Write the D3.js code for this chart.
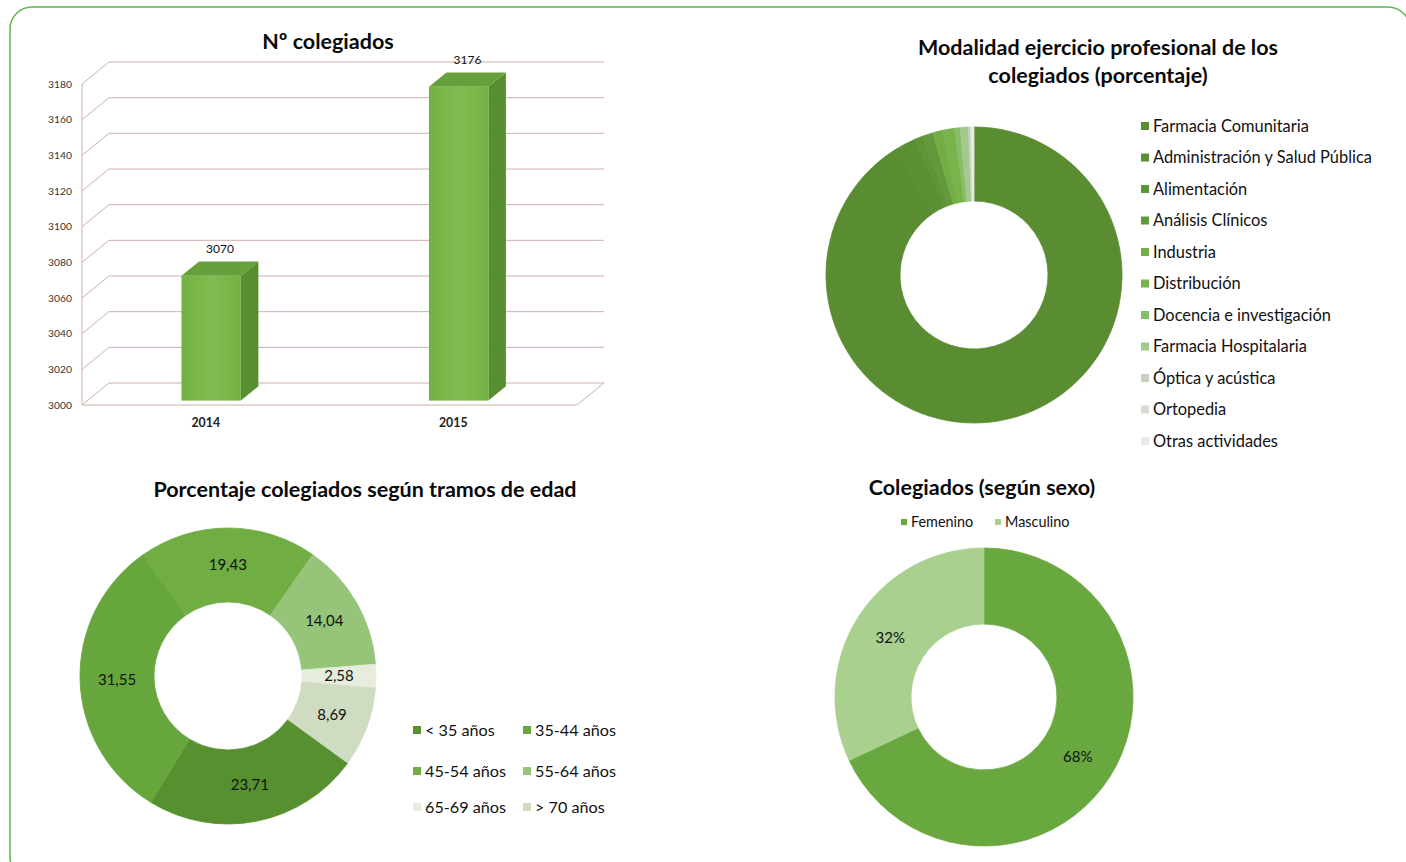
<!DOCTYPE html>
<html>
<head>
<meta charset="utf-8">
<script src="https://cdn.jsdelivr.net/npm/d3@7"></script>
<style>
  body { margin: 0; background: #ffffff; }
  svg { display: block; font-family: Lato, "Open Sans", sans-serif; }
</style>
</head>
<body>
<div id="contenedor"></div>
<script>
// --- datos ---
const anios = ["2014", "2015"];
const colegiados = [3070, 3176];
const ticksColegiados = [3000, 3020, 3040, 3060, 3080, 3100, 3120, 3140, 3160, 3180];

const modalidades = ["Farmacia Comunitaria", "Administración y Salud Pública", "Alimentación",
    "Análisis Clínicos", "Industria", "Distribución", "Docencia e investigación",
    "Farmacia Hospitalaria", "Óptica y acústica", "Ortopedia", "Otras actividades"];
const porcentajesModalidad = [91.0, 2.5, 0.8, 1.2, 1.0, 1.4, 0.6, 0.9, 0.2, 0.1, 0.3];
const coloresModalidad = ["#5a8c32", "#5b8f33", "#5e9436", "#63993a", "#72ad45", "#78b34b",
    "#8abd6a", "#a3ca8e", "#c6d0be", "#d6dcd1", "#e8ebe4"];

const tramos = ["< 35 años", "35-44 años", "45-54 años", "55-64 años", "65-69 años", "> 70 años"];
const porcentajesTramo = [23.71, 31.55, 19.43, 14.04, 2.58, 8.69];
const coloresTramo = ["#56902f", "#67a53d", "#70ae44", "#96c57a", "#e6eddc", "#d0dcc2"];

const sexos = ["Femenino", "Masculino"];
const porcentajesSexo = [68, 32];
const coloresSexo = ["#68a83f", "#aad08f"];

const ANCHO = 1406, ALTO = 862;
const COLOR_TEXTO = "#111";

const $svg = d3.select("#contenedor")
    .append("svg")
    .attr("width", ANCHO)
    .attr("height", ALTO);

// marco redondeado
$svg.append("rect")
    .attr("x", 10).attr("y", 7)
    .attr("width", 1400).attr("height", 872)
    .attr("rx", 22)
    .attr("fill", "none")
    .attr("stroke", "#62b550")
    .attr("stroke-width", 1.5);

const titulo = (x, y, texto) => {
    $svg.append("text")
        .attr("x", x).attr("y", y)
        .attr("text-anchor", "middle")
        .attr("font-size", 21.5)
        .attr("font-weight", "bold")
        .attr("fill", "#0a0a0a")
        .text(texto);
};

// --- barras 3D: Nº colegiados ---
const FONDO_X = 27, FONDO_Y = -22;
const COLOR_REJILLA = "#cdb0ab";
const y = d3.scaleLinear().domain([3000, 3180]).range([405, 84]);
const x = d3.scaleBand().domain(anios).range([82, 577]).paddingInner(0.76).paddingOuter(0.38);

titulo(328, 49, "Nº colegiados");

const rejilla = $svg.append("g");
for (const t of ticksColegiados) {
    rejilla.append("path")
        .attr("d", `M82,${y(t)} L${82 + FONDO_X},${y(t) + FONDO_Y} L${577 + FONDO_X},${y(t) + FONDO_Y}`)
        .attr("fill", "none")
        .attr("stroke", COLOR_REJILLA);
    rejilla.append("text")
        .attr("x", 72).attr("y", y(t))
        .attr("dy", "0.35em")
        .attr("text-anchor", "end")
        .attr("font-size", 10.3)
        .attr("fill", "#333")
        .text(t);
}
// suelo y eje
rejilla.append("path")
    .attr("d", `M82,${y(3000)} L577,${y(3000)} L${577 + FONDO_X},${y(3000) + FONDO_Y}`)
    .attr("fill", "none")
    .attr("stroke", COLOR_REJILLA);
rejilla.append("line")
    .attr("x1", 82).attr("x2", 82)
    .attr("y1", y(3180)).attr("y2", y(3000))
    .attr("stroke", COLOR_REJILLA);

const defs = $svg.append("defs");
const grad = defs.append("linearGradient").attr("id", "frente").attr("x1", 0).attr("x2", 1);
grad.append("stop").attr("offset", "0%").attr("stop-color", "#72b142");
grad.append("stop").attr("offset", "50%").attr("stop-color", "#80bd52");
grad.append("stop").attr("offset", "100%").attr("stop-color", "#74b244");

const F1 = 0.2, F2 = 0.85;
anios.forEach((anio, i) => {
    const x0 = x(anio) + FONDO_X * F1;
    const x1 = x0 + x.bandwidth();
    const yb = y(3000) + FONDO_Y * F1;
    const yt = y(colegiados[i]) + FONDO_Y * F1;
    const dx = FONDO_X * (F2 - F1), dy = FONDO_Y * (F2 - F1);
    const g = $svg.append("g");
    g.append("path")
        .attr("d", `M${x1},${yt} L${x1 + dx},${yt + dy} L${x1 + dx},${yb + dy} L${x1},${yb} Z`)
        .attr("fill", "#568e30");
    g.append("path")
        .attr("d", `M${x0},${yt} L${x0 + dx},${yt + dy} L${x1 + dx},${yt + dy} L${x1},${yt} Z`)
        .attr("fill", "#66a03a");
    g.append("rect")
        .attr("x", x0).attr("y", yt)
        .attr("width", x.bandwidth()).attr("height", yb - yt)
        .attr("fill", "url(#frente)");
    g.append("text")
        .attr("x", x0 + x.bandwidth() / 2 + dx / 2)
        .attr("y", yt + dy - 8)
        .attr("text-anchor", "middle")
        .attr("font-size", 12)
        .attr("fill", COLOR_TEXTO)
        .text(colegiados[i]);
    g.append("text")
        .attr("x", x(anio) + x.bandwidth() / 2)
        .attr("y", 427)
        .attr("text-anchor", "middle")
        .attr("font-size", 12.3)
        .attr("font-weight", "bold")
        .attr("fill", "#222")
        .text(anio);
});

// --- donut generico ---
const donut = (cx, cy, rExt, rInt, valores, colores, inicio, etiquetas) => {
    const pie = d3.pie().sort(null).startAngle(inicio).endAngle(inicio + 2 * Math.PI);
    const arco = d3.arc().innerRadius(rInt).outerRadius(rExt);
    const arcoEtiqueta = d3.arc().innerRadius((rInt + rExt) / 2).outerRadius((rInt + rExt) / 2);
    const g = $svg.append("g").attr("transform", `translate(${cx},${cy})`);
    const datos = pie(valores);
    g.selectAll("path")
        .data(datos)
        .join("path")
        .attr("d", arco)
        .attr("fill", (d, i) => colores[i])
        .attr("stroke", (d, i) => colores[i])
        .attr("stroke-width", 0.8);
    if (etiquetas) {
        g.selectAll("text")
            .data(datos)
            .join("text")
            .attr("transform", d => `translate(${arcoEtiqueta.centroid(d)})`)
            .attr("dy", "0.35em")
            .attr("text-anchor", "middle")
            .attr("font-size", 15)
            .attr("fill", COLOR_TEXTO)
            .text((d, i) => etiquetas[i]);
    }
};

const leyenda = (items, colores, posiciones, tam, tamFuente) => {
    items.forEach((item, i) => {
        const p = posiciones[i];
        $svg.append("rect")
            .attr("x", p[0]).attr("y", p[1] - tam / 2)
            .attr("width", tam).attr("height", tam)
            .attr("fill", colores[i]);
        $svg.append("text")
            .attr("x", p[0] + tam + 4).attr("y", p[1])
            .attr("dy", "0.35em")
            .attr("font-size", tamFuente)
            .attr("fill", COLOR_TEXTO)
            .text(item);
    });
};

// --- modalidad ejercicio profesional ---
titulo(1098, 55, "Modalidad ejercicio profesional de los");
titulo(1098, 83, "colegiados (porcentaje)");
donut(974, 275, 148, 74, porcentajesModalidad, coloresModalidad, 0, null);
leyenda(modalidades, coloresModalidad,
    modalidades.map((m, i) => [1141, 126 + i * 31.5]), 8, 16.4);

// --- tramos de edad ---
titulo(365, 497, "Porcentaje colegiados según tramos de edad");
donut(228, 676, 148, 74, porcentajesTramo, coloresTramo, 126 * Math.PI / 180,
    porcentajesTramo.map(v => d3.format(".2f")(v).replace(".", ",")));
leyenda(tramos, coloresTramo,
    [[413, 730], [523, 730], [413, 771], [523, 771], [413, 807], [523, 807]], 8, 16.2);

// --- según sexo ---
titulo(982, 495, "Colegiados (según sexo)");
leyenda(sexos, coloresSexo, [[901, 522], [995, 522]], 6, 14.4);
donut(984, 697, 149, 73, porcentajesSexo, coloresSexo, 0,
    porcentajesSexo.map(v => v + "%"));
</script>
</body>
</html>
